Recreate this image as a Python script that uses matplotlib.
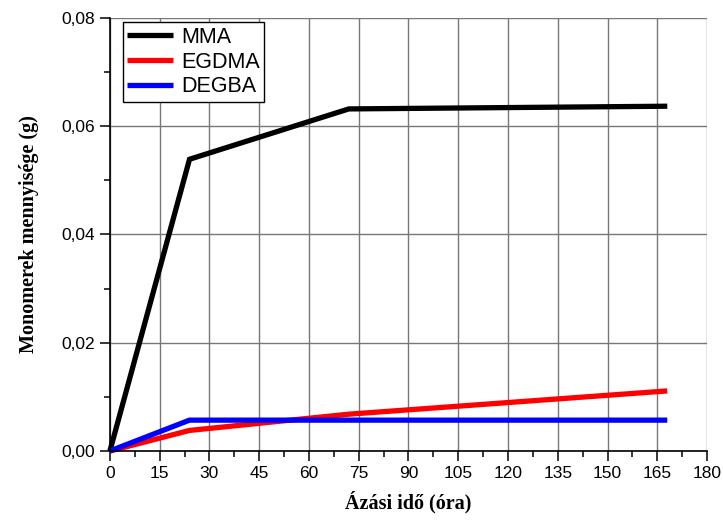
import matplotlib
matplotlib.use("Agg")
import matplotlib.pyplot as plt
from matplotlib.ticker import MultipleLocator, FuncFormatter

hours = [0, 24, 72, 168]
mma = [0.0, 0.0539, 0.0632, 0.0637]
egdma = [0.0, 0.0038, 0.0068, 0.0111]
degba = [0.0, 0.0057, 0.0057, 0.0057]
series_names = ["MMA", "EGDMA", "DEGBA"]
colors = ["#000000", "#ff0000", "#0000ff"]

x_label = "Ázási idő (óra)"
y_label = "Monomerek mennyisége (g)"

fig = plt.figure(figsize=(7.23, 5.2), dpi=100)
ax = fig.add_axes([0.152, 0.1327, 0.826, 0.8327])

for vals, name, c in zip([mma, egdma, degba], series_names, colors):
    ax.plot(hours, vals, color=c, lw=3.8, label=name, solid_capstyle="butt",
            solid_joinstyle="miter", clip_on=False, zorder=3)

ax.set_xlim(0, 180)
ax.set_ylim(0, 0.08)
ax.xaxis.set_major_locator(MultipleLocator(15))
ax.xaxis.set_minor_locator(MultipleLocator(7.5))
ax.yaxis.set_major_locator(MultipleLocator(0.02))
ax.yaxis.set_minor_locator(MultipleLocator(0.01))
ax.yaxis.set_major_formatter(FuncFormatter(lambda v, p: f"{v:.2f}".replace(".", ",")))
ax.xaxis.set_major_formatter(FuncFormatter(lambda v, p: f"{int(round(v))}"))

ax.grid(True, which="major", color="#777777", lw=1.0, zorder=1)
for s in ["top", "right"]:
    ax.spines[s].set_visible(False)
for s in ["left", "bottom"]:
    ax.spines[s].set_linewidth(1.2)
    ax.spines[s].set_zorder(4)

ax.tick_params(which="major", direction="out", length=7, width=1.1, labelsize=12.5,
               pad=4)
ax.tick_params(which="minor", direction="out", length=4, width=1.1)
for lab in ax.get_xticklabels() + ax.get_yticklabels():
    lab.set_fontfamily("Liberation Sans")

ax.set_xlabel(x_label, fontfamily="Liberation Serif", fontweight="bold", fontsize=14.5, labelpad=7)
ax.set_ylabel(y_label, fontfamily="Liberation Serif", fontweight="bold", fontsize=14.5, labelpad=16)

leg = ax.legend(loc="upper left", bbox_to_anchor=(0.022, 0.99), frameon=True, fancybox=False,
                edgecolor="black", framealpha=1, handlelength=2.1, handletextpad=0.4,
                borderpad=0.2, labelspacing=0.18, borderaxespad=0.0,
                prop={"family": "Liberation Sans", "size": 15.5})
leg.get_frame().set_linewidth(1.0)
leg.set_zorder(5)

fig.savefig("out.png", dpi=100)
